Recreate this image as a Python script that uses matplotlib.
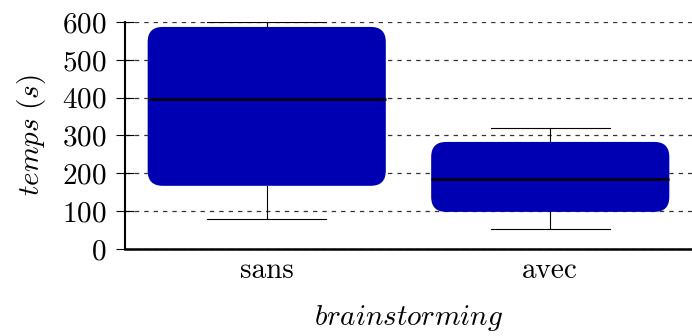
import matplotlib
matplotlib.use("Agg")
import matplotlib.pyplot as plt
from matplotlib.patches import FancyBboxPatch

# valeurs
categories = ["sans", "avec"]
q1 = [167, 98]
mediane = [397, 185]
q3 = [587, 283]
min_w = [79, 53]
max_w = [600, 320]
yticks = [0, 100, 200, 300, 400, 500, 600]

plt.rcParams["font.family"] = "cmr10"
plt.rcParams["mathtext.fontset"] = "cm"
plt.rcParams["axes.unicode_minus"] = False
plt.rcParams["axes.formatter.use_mathtext"] = True

fig = plt.figure(figsize=(6.92, 3.36), dpi=100)
ax = fig.add_axes([0.1806, 0.259, 0.8194, 0.6755])

stats = []
for i, c in enumerate(categories):
    stats.append({"label": c, "med": mediane[i], "q1": q1[i], "q3": q3[i],
                  "whislo": min_w[i], "whishi": max_w[i], "fliers": []})

pos = [1, 2]
bp = ax.bxp(stats, positions=pos, widths=0.84, capwidths=0.42,
            patch_artist=True, showfliers=False,
            whiskerprops=dict(color="black", lw=0.8),
            capprops=dict(color="black", lw=0.8),
            medianprops=dict(color="black", lw=1.8, zorder=4))

ax.set_xlim(0.5, 2.5)
ax.set_ylim(0, 600)
fig.canvas.draw()

# boîtes arrondies
ux = ax.transData.transform((1, 0))[0] - ax.transData.transform((0, 0))[0]
uy = ax.transData.transform((0, 1))[1] - ax.transData.transform((0, 0))[1]
r = 15 / ux
for b in bp["boxes"]:
    ext = b.get_path().get_extents()
    b.set_visible(False)
    fb = FancyBboxPatch((ext.x0, ext.y0), ext.width, ext.height,
                        boxstyle=f"round,pad=0,rounding_size={r}",
                        mutation_aspect=ux / uy,
                        facecolor="#0000b3", edgecolor="none", zorder=3)
    ax.add_patch(fb)

ax.set_yticks(yticks)
ax.set_xticks(pos)
ax.set_xticklabels(categories)
ax.yaxis.grid(True, linestyle=(0, (3.5, 4)), color="#333333", lw=0.9, zorder=0)
ax.set_axisbelow(True)
ax.spines["top"].set_visible(False)
ax.spines["right"].set_visible(False)
ax.spines["left"].set_linewidth(1.5)
ax.spines["bottom"].set_linewidth(1.8)
ax.tick_params(axis="y", direction="inout", length=13, width=0.8, labelsize=21, pad=7)
ax.tick_params(axis="x", length=0, labelsize=21, pad=6)

ax.set_ylabel(r"$\mathit{temps\ (s)}$", fontsize=21, labelpad=10)
ax.set_xlabel(r"$\mathit{brainstorming}$", fontsize=21, labelpad=14)

fig.savefig("out.png", dpi=100)
